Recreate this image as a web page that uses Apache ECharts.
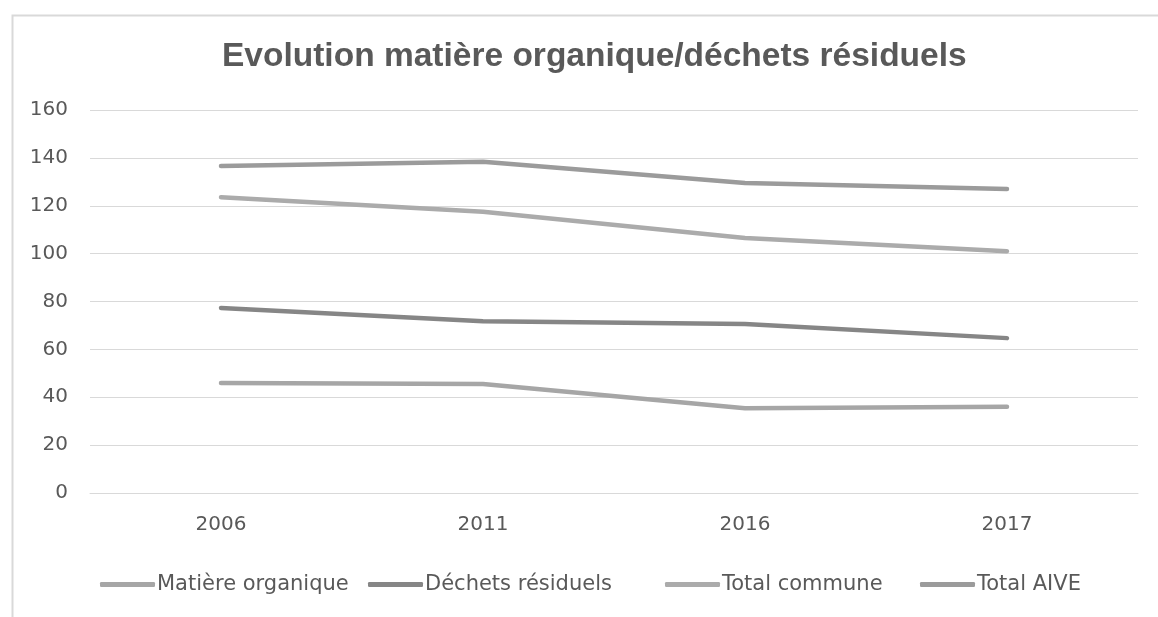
<!DOCTYPE html>
<html>
<head>
<meta charset="utf-8">
<script src="https://cdn.jsdelivr.net/npm/echarts@6/dist/echarts.min.js"></script>
<style>html,body{margin:0;padding:0;background:#fff;}#c{width:1158px;height:617px;}</style>
</head>
<body>
<div id="c"></div>
<script>
const categories = ['2006', '2011', '2016', '2017'];
const matiereOrganique = [46, 45.5, 35.4, 36];
const dechetsResiduels = [77.3, 71.8, 70.6, 64.7];
const totalCommune = [123.6, 117.5, 106.5, 101];
const totalAIVE = [136.6, 138.4, 129.5, 127];
const seriesNames = ['Matière organique', 'Déchets résiduels', 'Total commune', 'Total AIVE'];
const yTicks = { min: 0, max: 160, interval: 20 };

const colors = ['#a6a6a6', '#868686', '#ababab', '#9b9b9b'];
const seriesData = [matiereOrganique, dechetsResiduels, totalCommune, totalAIVE];
const font = '"DejaVu Sans", sans-serif';
const legendLeft = [95, 363, 660, 915];

const chart = echarts.init(document.getElementById('c'), null, { renderer: 'canvas' });
chart.setOption({
  animation: false,
  backgroundColor: '#fff',
  graphic: [{
    type: 'rect', left: 10, top: 13, silent: true,
    shape: { width: 1170, height: 640 },
    style: { fill: 'none', stroke: '#d9d9d9', lineWidth: 2 }
  }],
  title: {
    text: 'Evolution matière organique/déchets résiduels',
    left: 217, top: 35,
    textStyle: { fontFamily: '"Liberation Sans", Arial, sans-serif', fontWeight: 'bold', fontSize: 33.5, color: '#595959' }
  },
  legend: seriesNames.map((n, i) => ({
    data: [n], left: legendLeft[i], top: 569,
    icon: 'roundRect', itemWidth: 55, itemHeight: 5, itemGap: 0,
    textStyle: { fontFamily: font, fontSize: 21, color: '#595959', padding: [0, 0, 0, -3] }
  })),
  grid: { left: 90, right: 20, top: 110, bottom: 124 },
  xAxis: {
    type: 'category', data: categories, boundaryGap: true,
    axisLine: { show: true, lineStyle: { color: '#d9d9d9', width: 1 } },
    axisTick: { show: false },
    axisLabel: { fontFamily: font, fontSize: 20, color: '#595959', margin: 22 }
  },
  yAxis: {
    type: 'value', min: yTicks.min, max: yTicks.max, interval: yTicks.interval,
    axisLine: { show: false }, axisTick: { show: false },
    splitLine: { lineStyle: { color: '#d9d9d9', width: 1 } },
    axisLabel: { fontFamily: font, fontSize: 20, color: '#595959', margin: 22 }
  },
  series: seriesNames.map((n, i) => ({
    name: n, type: 'line', data: seriesData[i],
    symbol: 'none', showSymbol: false,
    color: colors[i],
    lineStyle: { color: colors[i], width: 4.5, cap: 'round', join: 'round' },
    itemStyle: { color: colors[i] }
  }))
});
</script>
</body>
</html>
